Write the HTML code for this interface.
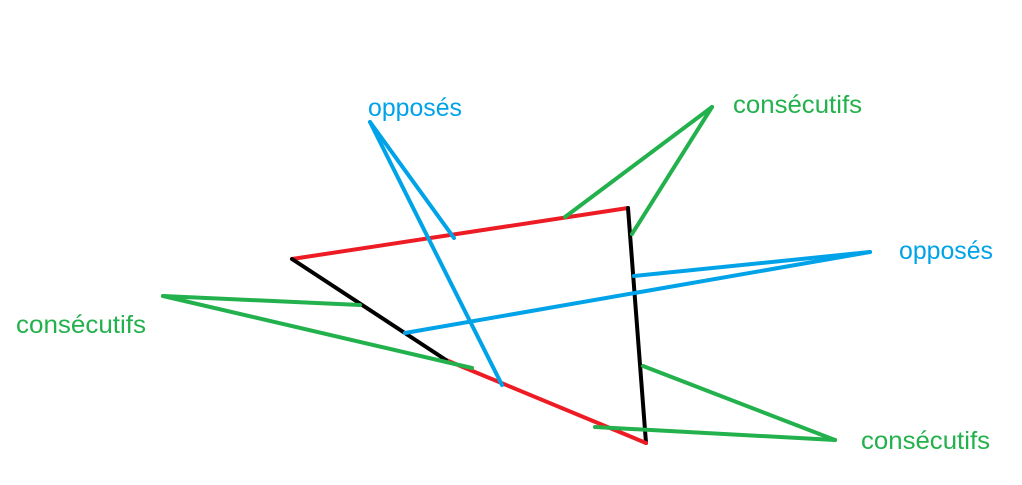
<!DOCTYPE html>
<html><head><meta charset="utf-8"><style>
html,body{margin:0;padding:0;background:#fff;}
svg{display:block;}
text{font-family:"Liberation Sans",sans-serif;font-size:25px;}
</style></head><body>
<svg width="1022" height="485" viewBox="0 0 1022 485" xmlns="http://www.w3.org/2000/svg">
<g stroke-width="4" stroke-linecap="round" fill="none">
<line x1="292" y1="259" x2="628" y2="208" stroke="#ed1c24"/>
<line x1="628" y1="208" x2="646" y2="443" stroke="#000"/>
<line x1="646" y1="443" x2="446" y2="360" stroke="#ed1c24"/>
<line x1="446" y1="360" x2="292" y2="259" stroke="#000"/>
<line x1="370" y1="122" x2="454" y2="238" stroke="#00a2e8"/>
<line x1="370" y1="122" x2="502" y2="385" stroke="#00a2e8"/>
<line x1="870" y1="252" x2="634" y2="276" stroke="#00a2e8"/>
<line x1="870" y1="252" x2="405" y2="333" stroke="#00a2e8"/>
<line x1="712" y1="107" x2="565" y2="217" stroke="#22b14c"/>
<line x1="712" y1="107" x2="632" y2="234" stroke="#22b14c"/>
<line x1="163" y1="296" x2="360" y2="305" stroke="#22b14c"/>
<line x1="163" y1="296" x2="472" y2="368" stroke="#22b14c"/>
<line x1="835" y1="440" x2="643" y2="366" stroke="#22b14c"/>
<line x1="835" y1="440" x2="595" y2="427" stroke="#22b14c"/>
</g>
<text x="368" y="116" fill="#00a2e8" textLength="94" lengthAdjust="spacingAndGlyphs">opposés</text>
<text x="733" y="113" fill="#22b14c" textLength="129" lengthAdjust="spacingAndGlyphs">consécutifs</text>
<text x="899" y="259" fill="#00a2e8" textLength="94" lengthAdjust="spacingAndGlyphs">opposés</text>
<text x="16" y="333" fill="#22b14c" textLength="130" lengthAdjust="spacingAndGlyphs">consécutifs</text>
<text x="861" y="449" fill="#22b14c" textLength="129" lengthAdjust="spacingAndGlyphs">consécutifs</text>
</svg>
</body></html>
